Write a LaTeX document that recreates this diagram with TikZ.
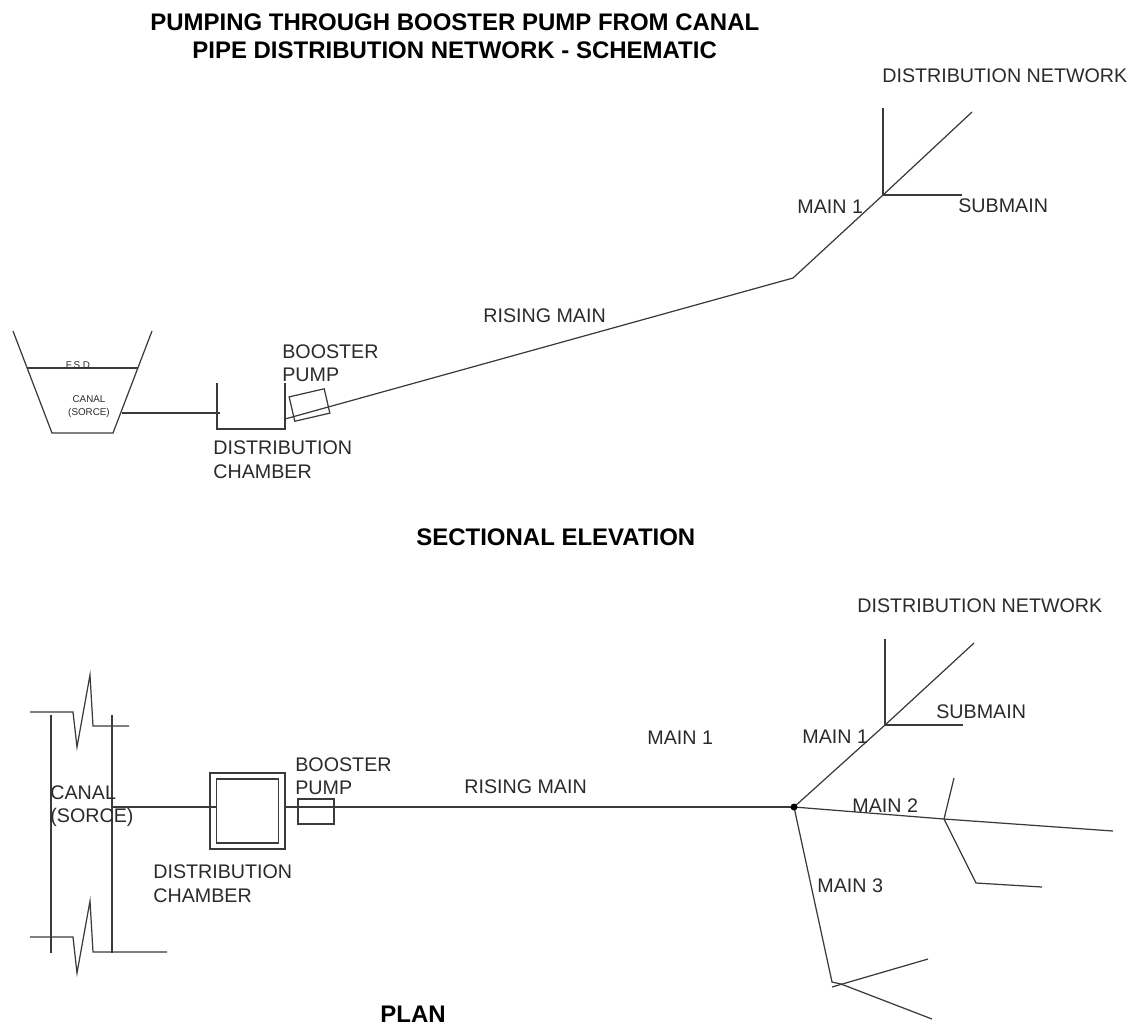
\documentclass[tikz,border=0pt]{standalone}
\usepackage{xcolor}
\usepackage{fontspec}
\setmainfont{Liberation Sans}
\usepackage{tikz}
\definecolor{pipegray}{HTML}{3A3A3A}
\definecolor{labelgray}{HTML}{2A2A2A}
\tikzset{
  pipe/.style={draw=pipegray,line width=0.7pt},
  lbl/.style={anchor=west,inner sep=0pt,text=labelgray,font=\fontsize{11.2}{13}\selectfont},
  tinylbl/.style={anchor=center,inner sep=0pt,text=labelgray,font=\fontsize{5.6}{7.3}\selectfont,align=center},
  headlbl/.style={anchor=west,inner sep=0pt,text=black,font=\bfseries\fontsize{13.65}{16}\selectfont},
  pumpbox/.style={draw=pipegray,line width=0.7pt,minimum width=0.72cm,minimum height=0.5cm,inner sep=0pt},
  chamberbox/.style={draw=pipegray,line width=0.8pt,inner sep=0pt}
}
\begin{document}
\begin{tikzpicture}[x=0.02cm,y=-0.02cm]
  \useasboundingbox (0,0) rectangle (1141,1029);
  % headings
  \node[headlbl] (title1) at (150,22) {PUMPING THROUGH BOOSTER PUMP FROM CANAL};
  \node[headlbl] (title2) at (192,50) {PIPE DISTRIBUTION NETWORK - SCHEMATIC};
  \node[headlbl] (elevhead) at (416,537) {SECTIONAL ELEVATION};
  \node[headlbl] (planhead) at (380,1014) {PLAN};

  % sectional elevation
  \draw[pipe] (13,331) -- (52,433) -- (113,433) -- (152,331);
  \coordinate (fsdl) at (27,368);
  \coordinate (fsdr) at (138,368);
  \draw[pipe] (fsdl) -- (fsdr);
  \node[tinylbl] (fsd) at (78,365) {F.S.D};
  \node[tinylbl] (canal) at (89,406.5) {CANAL\\(SORCE)};
  \coordinate (outlet) at (122,413);
  \coordinate (inlet) at (220,413);
  \draw[pipe] (outlet) -- (inlet);
  \draw[pipe] (217,383) -- (217,429) -- (285,429) -- (285,383);
  \node[pumpbox,rotate=13] (pump) at (309.5,405) {};
  \coordinate (chamberout) at (285,419);
  \coordinate (bend) at (793,278);
  \coordinate (fork) at (883,195);
  \coordinate (forktop) at (883,108);
  \coordinate (forkend) at (972,112);
  \coordinate (subend) at (962,195);
  \draw[pipe] (chamberout) -- (bend) -- (fork) -- (forkend);
  \draw[pipe] (forktop) -- (fork) -- (subend);
  \node[lbl] (boost) at (282,352) {BOOSTER};
  \node[lbl] (boostb) at (282,375) {PUMP};
  \node[lbl] (chamb) at (213,448) {DISTRIBUTION};
  \node[lbl] (chambb) at (213,472) {CHAMBER};
  \node[lbl] (rising) at (483,316) {RISING MAIN};
  \node[lbl] (mainone) at (797,207) {MAIN 1};
  \node[lbl] (submain) at (958,206) {SUBMAIN};
  \node[lbl] (network) at (882,76) {DISTRIBUTION NETWORK};

  % plan
  \draw[pipe] (30,712) -- (73,712) -- (77,747) -- (90,675) -- (93,726) -- (129,726);
  \draw[pipe] (30,937) -- (73,937) -- (77,973) -- (90,901) -- (93,952) -- (167,952);
  \draw[pipe] (51,715) -- (51,953);
  \draw[pipe] (112,715) -- (112,953);
  \node[chamberbox,minimum width=1.5cm,minimum height=1.52cm] (chamberouter) at (247.5,811) {};
  \node[chamberbox,minimum width=1.24cm,minimum height=1.28cm] (chamberinner) at (247.5,811) {};
  \node[pumpbox,minimum height=0.5cm] (planpump) at (316,811.5) {};
  \coordinate (bank) at (112,807);
  \coordinate (hub) at (794,807);
  \coordinate (pfork) at (885,725);
  \coordinate (pforktop) at (885,639);
  \coordinate (pforkend) at (974,643);
  \coordinate (psubend) at (963,725);
  \coordinate (twoend) at (1113,831);
  \coordinate (twofork) at (944,819);
  \coordinate (twoup) at (954,778);
  \coordinate (twobend) at (976,883);
  \coordinate (twodown) at (1042,887);
  \coordinate (threebend) at (832,982);
  \coordinate (threestart) at (832,987);
  \coordinate (threeup) at (928,959);
  \coordinate (threemid) at (841,984);
  \coordinate (threedown) at (932,1019);
  \draw[pipe] (bank) -- (chamberinner.west |- bank);
  \draw[pipe] (chamberouter.east |- hub) -- (hub);
  \draw[pipe] (hub) -- (pfork) -- (pforkend);
  \draw[pipe] (pforktop) -- (pfork) -- (psubend);
  \draw[pipe] (hub) -- (twofork) -- (twoend);
  \draw[pipe] (twoup) -- (twofork) -- (twobend) -- (twodown);
  \draw[pipe] (hub) -- (threebend) -- (threemid) -- (threedown);
  \draw[pipe] (threestart) -- (threeup);
  \fill[black] (hub) circle (3.5);
  \node[lbl] (plancanal) at (50,793) {CANAL};
  \node[lbl] (plancanalb) at (50,817) {(SORCE)};
  \node[lbl] (planboost) at (295,765) {BOOSTER};
  \node[lbl] (planboostb) at (295,788) {PUMP};
  \node[lbl] (planchamb) at (153,872) {DISTRIBUTION};
  \node[lbl] (planchambb) at (153,896) {CHAMBER};
  \node[lbl] (planrising) at (464,787) {RISING MAIN};
  \node[lbl] (planmain) at (647,738) {MAIN 1};
  \node[lbl] (planone) at (802,737) {MAIN 1};
  \node[lbl] (plansub) at (936,712) {SUBMAIN};
  \node[lbl] (plantwo) at (852,806) {MAIN 2};
  \node[lbl] (planthree) at (817,886) {MAIN 3};
  \node[lbl] (plannetwork) at (857,606) {DISTRIBUTION NETWORK};
\end{tikzpicture}
\end{document}
